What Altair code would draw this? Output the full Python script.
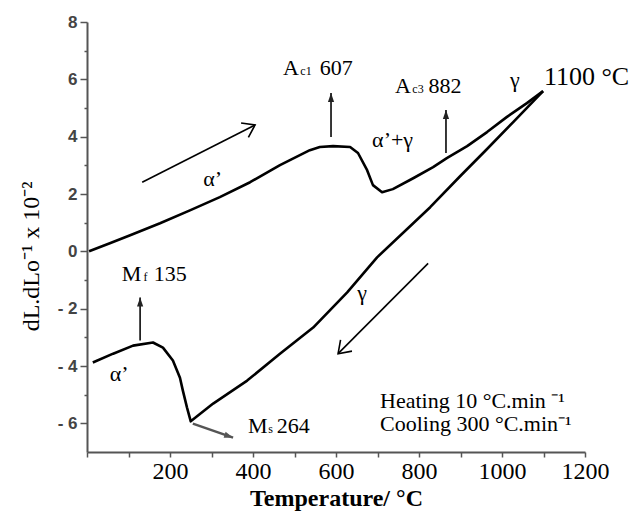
import math
import altair as alt
import pandas as pd

# ---- dilatometric curve ----
heat_T = [5, 55, 104, 176, 248, 320, 393, 465, 537, 561, 593, 634, 653, 675, 689, 711, 737,
          786, 834, 867, 916, 964, 1012, 1060, 1099]
heat_y = [0.0, 0.28, 0.56, 0.98, 1.43, 1.89, 2.41, 3.01, 3.53, 3.64, 3.67, 3.64, 3.43, 2.83,
          2.31, 2.06, 2.17, 2.55, 2.94, 3.25, 3.67, 4.16, 4.69, 5.17, 5.59]

cool_T = [14, 63, 111, 159, 183, 207, 224, 231, 241, 250, 304, 386, 465, 545, 627, 699,
          827, 899, 964, 1027, 1099]
cool_y = [-3.88, -3.57, -3.29, -3.18, -3.36, -3.81, -4.41, -4.86, -5.45, -5.93, -5.31, -4.51,
          -3.57, -2.66, -1.43, -0.21, 1.54, 2.62, 3.57, 4.51, 5.59]

x_ticks = list(range(0, 1201, 100))
y_ticks = list(range(-6, 9))

# ---- annotations (data coordinates) ----
big_arrow_T0 = [133, 822]
big_arrow_y0 = [2.41, -0.42]
big_arrow_T1 = [405, 605]
big_arrow_y1 = [4.41, -3.57]

trans_arrow_T0 = [588, 865, 128]
trans_arrow_y0 = [3.99, 3.43, -3.11]
trans_arrow_T1 = [588, 865, 128]
trans_arrow_y1 = [5.52, 4.93, -1.61]

ms_arrow_T0 = [255]
ms_arrow_y0 = [-6.01]
ms_arrow_T1 = [352]
ms_arrow_y1 = [-6.50]

big_text = ["A", "607", "A", "882", "α’+γ", "γ", "α’", "α’", "γ",
            "M", "135", "M", "264"]
big_text_T = [472, 561, 742, 823, 687, 1019, 280, 55, 651, 84, 161, 388, 457]
big_text_y = [6.15, 6.15, 5.52, 5.52, 3.64, 5.73, 2.27, -4.51, -1.71,
              -1.05, -1.05, -6.33, -6.33]

peak_text = ["1100 °C"]
peak_T = [1101]
peak_y = [5.80]

sub_text = ["c1", "c3", "f", "s"]
sub_text_T = [514, 784, 136, 437]
sub_text_y = [6.15, 5.52, -1.05, -6.33]

note_text = ["Heating 10 °C.min ⁻¹", "Cooling 300 °C.min⁻¹"]
note_T = [706, 706]
note_y = [-5.45, -6.26]

# ---- geometry ----
W, H = 498, 430
XMIN, XMAX = 0, 1200
YMIN, YMAX = -7, 8
SERIF = "Liberation Serif"

px_per_T = W / (XMAX - XMIN)
px_per_y = H / (YMAX - YMIN)


def head_angle(t0, v0, t1, v1):
    dx = (t1 - t0) * px_per_T
    dy = -(v1 - v0) * px_per_y
    a = math.degrees(math.atan2(dx, -dy))
    return a % 360


xs = alt.Scale(domain=[XMIN, XMAX], nice=False, zero=False)
ys = alt.Scale(domain=[YMIN, YMAX], nice=False, zero=False)

x_axis = alt.Axis(
    values=x_ticks, format="d",
    labelExpr="datum.value % 200 == 0 && datum.value > 0 ? datum.label : ''",
    title="Temperature/ °C", titleFont=SERIF, titleFontSize=24, titleFontWeight="bold",
    titleColor="black", titlePadding=3,
    labelFont=SERIF, labelFontSize=24, labelColor="black", labelPadding=2,
    tickSize=5, tickColor="#555", tickWidth=1.5, domainColor="#555", domainWidth=2,
    grid=False, labelFlush=False, labelOverlap=False,
)
y_axis = alt.Axis(
    values=y_ticks,
    labelExpr="datum.value % 2 != 0 ? '' : (datum.value < 0 ? '- ' + abs(datum.value) : '' + datum.value)",
    title="dL.dLo⁻¹ x 10⁻²", titleFont=SERIF, titleFontSize=24, titleFontWeight="normal",
    titleColor="black", titleAngle=270, titleX=-56, titleY=234, titleAlign="center",
    titleBaseline="middle",
    labelFont="Liberation Sans", labelFontSize=17, labelFontWeight="bold", labelColor="#444",
    labelPadding=3,
    tickSize={"condition": {"test": "datum.value % 2 == 0", "value": 7}, "value": 3},
    tickColor="#555", tickWidth=1.5, domainColor="#555", domainWidth=2,
    grid=False, labelOverlap=False,
)


def X(field):
    return alt.X(field, scale=xs, axis=x_axis)


def Y(field):
    return alt.Y(field, scale=ys, axis=y_axis)


heat_df = pd.DataFrame({"T": heat_T, "y": heat_y})
cool_df = pd.DataFrame({"T": cool_T, "y": cool_y})

heat = alt.Chart(heat_df).mark_line(color="black", strokeWidth=2.6, strokeJoin="round").encode(
    x=X("T:Q"), y=Y("y:Q"), order="T:Q",
)
cool = alt.Chart(cool_df).mark_line(color="black", strokeWidth=2.6, strokeJoin="round").encode(
    x=X("T:Q"), y=Y("y:Q"), order="T:Q",
)


def arrow_df(t0, v0, t1, v1):
    return pd.DataFrame({
        "T": t0, "y": v0, "T1": t1, "y1": v1,
        "a": [head_angle(a, b, c, d) for a, b, c, d in zip(t0, v0, t1, v1)],
    })


def shaft(df, color, width):
    return alt.Chart(df).mark_rule(color=color, strokeWidth=width).encode(
        x=X("T:Q"), y=Y("y:Q"), x2="T1:Q", y2="y1:Q",
    )


def head(df, color, shape, size, filled, width=1.5):
    mk = alt.Chart(df).mark_point(
        shape=shape, size=size, filled=filled, color=color, opacity=1,
        strokeWidth=width,
    )
    return mk.encode(
        x=X("T1:Q"), y=Y("y1:Q"),
        angle=alt.Angle("a:Q", scale=None),
    )


V_HEAD = "M-0.57,0.82L0,0L0.57,0.82"
TRI_HEAD = "M0,0L-0.45,1.3L0.45,1.3Z"

big_df = arrow_df(big_arrow_T0, big_arrow_y0, big_arrow_T1, big_arrow_y1)
trans_df = arrow_df(trans_arrow_T0, trans_arrow_y0, trans_arrow_T1, trans_arrow_y1)
ms_df = arrow_df(ms_arrow_T0, ms_arrow_y0, ms_arrow_T1, ms_arrow_y1)

layers = [
    heat, cool,
    shaft(big_df, "black", 1.6), head(big_df, "black", V_HEAD, 800, False, 1.6),
    shaft(trans_df, "#222", 1.8), head(trans_df, "#222", TRI_HEAD, 190, True),
    shaft(ms_df, "#555", 2.5), head(ms_df, "#555", TRI_HEAD, 190, True),
]


def text_layer(labels, tv, yv, size):
    df = pd.DataFrame({"T": tv, "y": yv, "label": labels})
    return alt.Chart(df).mark_text(
        align="left", baseline="alphabetic", font=SERIF, fontSize=size, color="black",
    ).encode(
        x=X("T:Q"), y=Y("y:Q"), text="label:N",
    )


layers.append(text_layer(big_text, big_text_T, big_text_y, 22))
layers.append(text_layer(peak_text, peak_T, peak_y, 26))
layers.append(text_layer(sub_text, sub_text_T, sub_text_y, 12))
layers.append(text_layer(note_text, note_T, note_y, 22))

chart = alt.layer(*layers).properties(
    width=W, height=H,
    autosize=alt.AutoSizeParams(type="none"),
    padding={"left": 79, "top": 14, "right": 44, "bottom": 62},
).configure_view(stroke=None)

chart.save("out.html", embed_options={"renderer": "svg", "actions": False})
